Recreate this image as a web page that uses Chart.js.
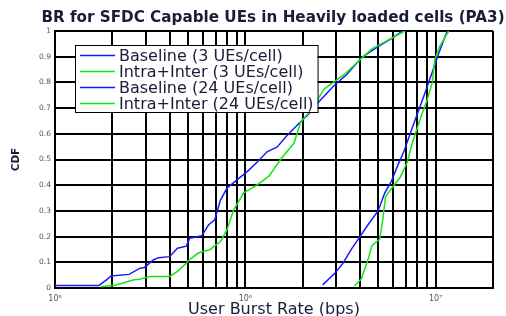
<!DOCTYPE html>
<html>
<head>
<meta charset="utf-8">
<script src="https://cdn.jsdelivr.net/npm/chart.js@4.4.1/dist/chart.umd.min.js"></script>
<style>
  html, body { margin: 0; padding: 0; background: #fff; }
  #wrap { width: 506px; height: 316px; }
</style>
</head>
<body>
<div id="wrap"><canvas id="cdf" width="506" height="316"></canvas></div>
<script>
// Series (x in bps, y = CDF)
const baseline3X = [1e5, 1.7e5, 1.85e5, 1.97e5, 2.45e5, 2.8e5, 2.95e5, 3.3e5, 3.5e5, 4.0e5, 4.4e5, 4.9e5, 5.1e5, 5.9e5, 6.4e5, 6.9e5, 7.4e5, 8.0e5, 9.0e5, 1.02e6, 1.18e6, 1.3e6, 1.47e6, 1.66e6, 1.91e6, 2.12e6, 2.4e6, 2.9e6, 3.4e6, 4.06e6, 5.0e6, 5.85e6, 6.7e6];
const baseline3Y = [0.01, 0.01, 0.03, 0.047, 0.053, 0.077, 0.08, 0.11, 0.118, 0.122, 0.155, 0.163, 0.194, 0.203, 0.245, 0.265, 0.342, 0.388, 0.42, 0.452, 0.497, 0.53, 0.549, 0.594, 0.64, 0.672, 0.72, 0.785, 0.83, 0.895, 0.94, 0.97, 1.0];

const intra3X = [1.74e5, 2.1e5, 2.57e5, 2.78e5, 3.14e5, 4.0e5, 4.4e5, 4.91e5, 5.0e5, 5.66e5, 6.53e5, 7.4e5, 8.0e5, 8.68e5, 9.8e5, 1.15e6, 1.33e6, 1.53e6, 1.8e6, 1.95e6, 2.2e6, 2.6e6, 3.3e6, 3.9e6, 4.6e6, 5.4e6, 6.9e6];
const intra3Y = [0.005, 0.012, 0.031, 0.034, 0.045, 0.045, 0.065, 0.097, 0.105, 0.136, 0.15, 0.181, 0.226, 0.303, 0.37, 0.4, 0.435, 0.5, 0.563, 0.645, 0.69, 0.775, 0.83, 0.88, 0.93, 0.958, 1.0];

const baseline24X = [2.55e6, 2.95e6, 3.25e6, 3.6e6, 3.98e6, 4.4e6, 4.98e6, 5.4e6, 5.85e6, 6.34e6, 6.8e6, 7.5e6, 8.6e6, 9.6e6, 1.04e7, 1.15e7];
const baseline24Y = [0.012, 0.057, 0.095, 0.15, 0.197, 0.245, 0.3, 0.37, 0.415, 0.48, 0.53, 0.62, 0.74, 0.84, 0.915, 1.0];

const intra24X = [3.74e6, 4.06e6, 4.45e6, 4.62e6, 5.08e6, 5.28e6, 5.45e6, 5.9e6, 6.5e6, 7.1e6, 7.5e6, 7.9e6, 8.4e6, 9.0e6, 9.6e6, 9.9e6, 1.05e7, 1.17e7];
const intra24Y = [0.008, 0.035, 0.12, 0.165, 0.19, 0.27, 0.355, 0.39, 0.43, 0.49, 0.56, 0.61, 0.67, 0.73, 0.8, 0.89, 0.94, 1.0];

const seriesLabels = ['Baseline (3 UEs/cell)', 'Intra+Inter (3 UEs/cell)', 'Baseline (24 UEs/cell)', 'Intra+Inter (24 UEs/cell)'];
const chartTitle = 'BR for SFDC Capable UEs in Heavily loaded cells (PA3)';

// Axis ticks
const xGridValues = [1e5, 2e5, 3e5, 4e5, 5e5, 6e5, 7e5, 8e5, 9e5, 1e6, 2e6, 3e6, 4e6, 5e6, 6e6, 7e6, 8e6, 9e6, 1e7, 2e7];
const xDecades = [1e5, 1e6, 1e7];
const xDecadeLabels = ['10\u2075', '10\u2076', '10\u2077'];
const yTickLabels = ['0', '0.1', '0.2', '0.3', '0.4', '0.5', '0.6', '0.7', '0.8', '0.9', '1'];

const BLUE = '#1a1aff';
const GREEN = '#14e614';
const TEXT = '#1a1c38';
const FONT = "'DejaVu Sans', sans-serif";

function pairs(xs, ys) {
    return xs.map((x, i) => ({ x: x, y: ys[i] }));
}

// Title centred over the plot area (the built-in title squeezes it to the plot width)
const plotTitle = {
    id: 'plotTitle',
    afterDraw(chart) {
        const ctx = chart.ctx;
        const area = chart.chartArea;
        ctx.save();
        ctx.font = 'bold 15.2px ' + FONT;
        ctx.fillStyle = TEXT;
        ctx.textAlign = 'center';
        ctx.textBaseline = 'middle';
        ctx.fillText(chartTitle, (area.left + area.right) / 2 - 1, area.top - 13);
        ctx.restore();
    }
};

// Boxed legend drawn inside the plot area, like the original figure
const boxLegend = {
    id: 'boxLegend',
    afterDatasetsDraw(chart) {
        const ctx = chart.ctx;
        const area = chart.chartArea;
        const left = area.left + 20;
        const top = area.top + 14;
        const rowH = 16;
        ctx.save();
        ctx.font = '16px ' + FONT;
        let maxW = 0;
        chart.data.datasets.forEach(ds => { maxW = Math.max(maxW, ctx.measureText(ds.label).width); });
        const w = 44 + maxW + 4;
        const h = rowH * chart.data.datasets.length + 3;
        ctx.fillStyle = '#fff';
        ctx.fillRect(left, top, w, h);
        ctx.strokeStyle = '#000';
        ctx.lineWidth = 1;
        ctx.strokeRect(left + 0.5, top + 0.5, w, h);
        chart.data.datasets.forEach((ds, i) => {
            const y = top + 10.5 + i * rowH;
            ctx.strokeStyle = ds.borderColor;
            ctx.lineWidth = 1.3;
            ctx.beginPath();
            ctx.moveTo(left + 5, y);
            ctx.lineTo(left + 40, y);
            ctx.stroke();
            ctx.fillStyle = TEXT;
            ctx.textBaseline = 'middle';
            ctx.fillText(ds.label, left + 44, y + 1);
        });
        ctx.restore();
    }
};

const colors = [BLUE, GREEN, BLUE, GREEN];
const series = [pairs(baseline3X, baseline3Y), pairs(intra3X, intra3Y), pairs(baseline24X, baseline24Y), pairs(intra24X, intra24Y)];

new Chart(document.getElementById('cdf'), {
    type: 'line',
    data: {
        datasets: series.map((d, i) => ({
            label: seriesLabels[i],
            data: d,
            borderColor: colors[i],
            backgroundColor: colors[i],
            borderWidth: 1.5,
            pointRadius: 0,
            tension: 0,
            fill: false,
            order: 4 - i
        }))
    },
    options: {
        responsive: false,
        animation: false,
        layout: { padding: { left: 0, right: 13, top: 31, bottom: 0 } },
        plugins: {
            legend: { display: false },
            tooltip: { enabled: false },
            title: { display: false }
        },
        scales: {
            x: {
                type: 'logarithmic',
                min: 1e5,
                max: 2e7,
                afterBuildTicks: scale => {
                    scale.ticks = xGridValues.map(v => ({ value: v }));
                },
                afterFit: scale => { scale.height = 28; },
                ticks: {
                    autoSkip: false,
                    maxRotation: 0,
                    padding: 6,
                    color: '#555',
                    font: { family: FONT, size: 8 },
                    callback: value => {
                        const k = xDecades.indexOf(value);
                        return k >= 0 ? xDecadeLabels[k] : '';
                    }
                },
                grid: { color: '#000', lineWidth: 2, drawTicks: false },
                border: { display: true, color: '#000', width: 2 },
                title: {
                    display: true,
                    text: 'User Burst Rate (bps)',
                    color: TEXT,
                    font: { family: FONT, size: 16, lineHeight: 1 },
                    padding: { top: 0, bottom: -1.5 }
                }
            },
            y: {
                min: 0,
                max: 1,
                afterFit: scale => { scale.width = 55; },
                ticks: {
                    stepSize: 0.1,
                    padding: 4,
                    color: '#555',
                    font: { family: FONT, size: 7.5 },
                    callback: (value, index) => yTickLabels[index]
                },
                grid: { color: '#000', lineWidth: 2, drawTicks: false },
                border: { display: true, color: '#000', width: 2 },
                title: {
                    display: true,
                    text: 'CDF',
                    color: TEXT,
                    font: { family: FONT, size: 10.5, weight: 'bold', lineHeight: 1.2 },
                    padding: { top: 10, bottom: 0 }
                }
            }
        }
    },
    plugins: [boxLegend, plotTitle]
});
</script>
</body>
</html>
